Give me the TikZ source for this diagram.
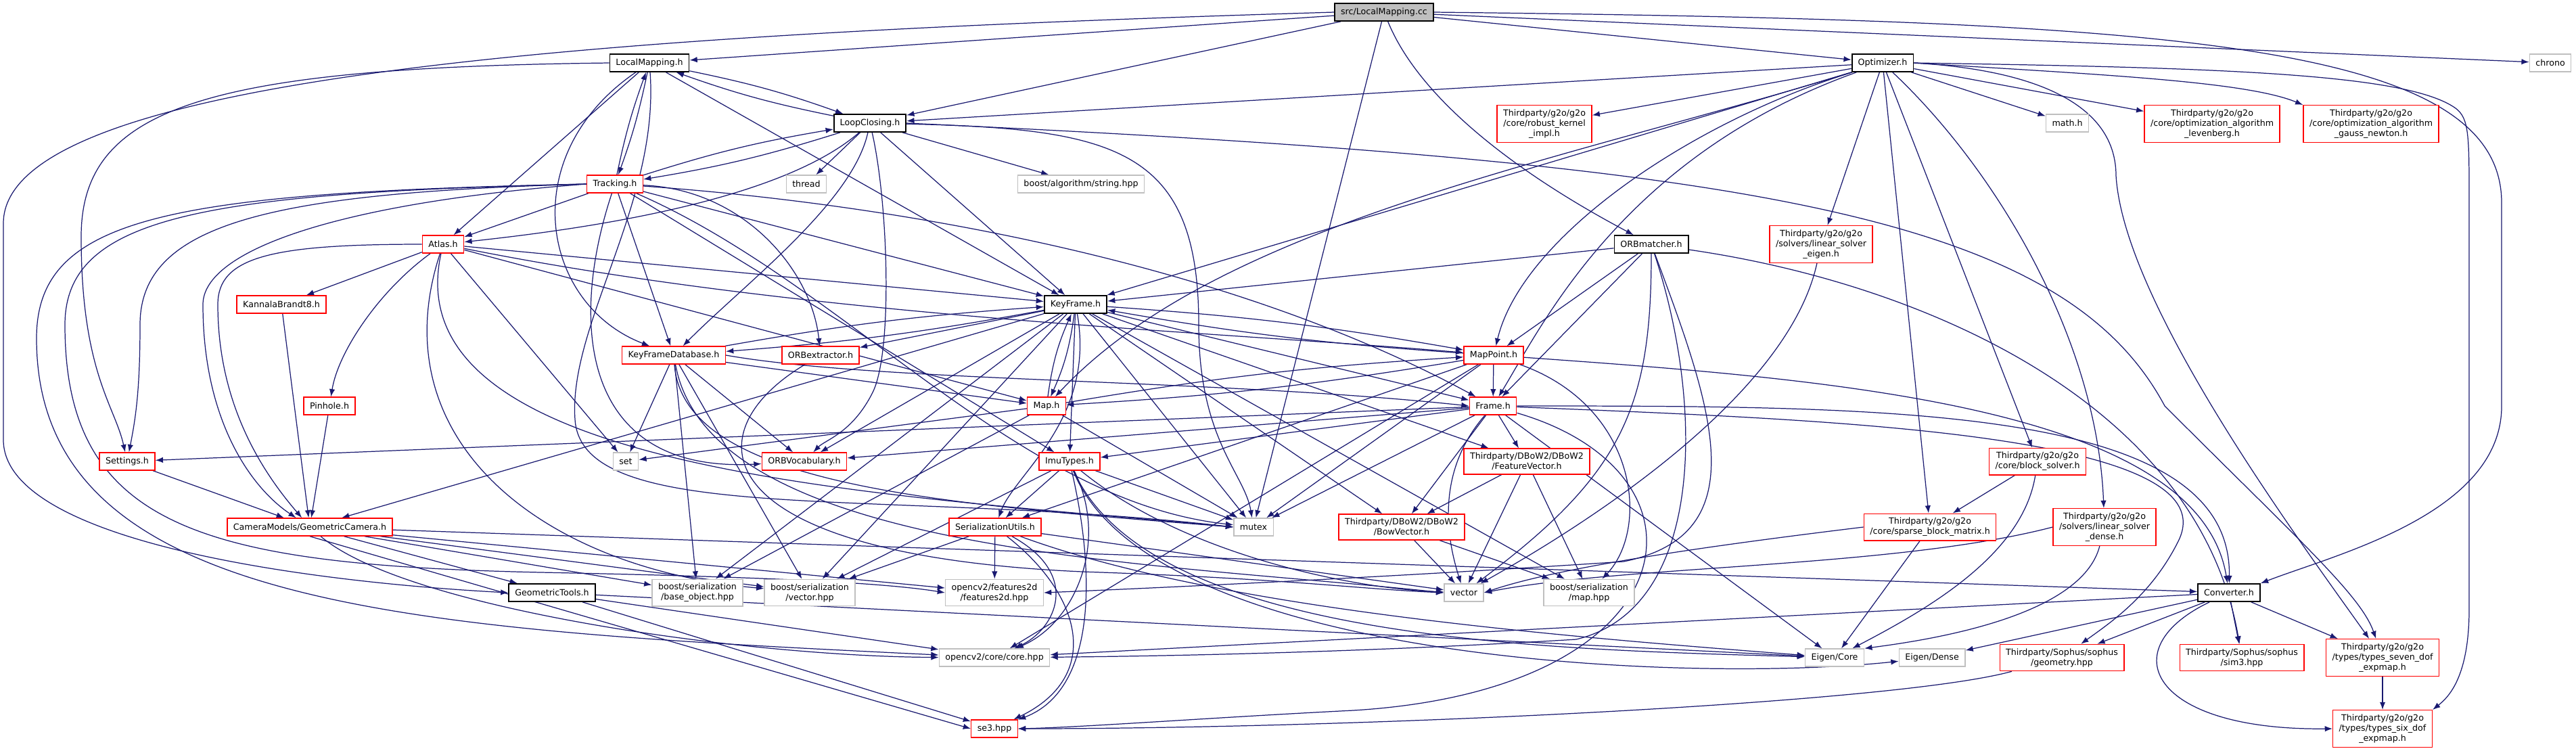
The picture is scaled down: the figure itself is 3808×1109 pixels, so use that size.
\documentclass[tikz,border=0pt]{standalone}
\usepackage{fontspec}
\usepackage{xcolor}
\usetikzlibrary{arrows.meta,backgrounds}
\newfontfamily\dxfont{DejaVu Sans}
\definecolor{edgeblue}{HTML}{191970}
\definecolor{boxgrey}{HTML}{BFBFBF}

\begin{document}
\begin{tikzpicture}[x=0.1mm,y=-0.1mm,>={Latex[length=3.2pt,width=2.4pt]}]
  \tikzstyle{hdr}=[draw=black,line width=0.5pt,fill=white,font={\dxfont\fontsize{3.6}{4.27}\selectfont},
    align=center,inner xsep=0.9mm,inner ysep=0.6mm,minimum height=2.6mm]
  \tikzstyle{trunc}=[hdr,draw=red,line width=0.4pt]
  \tikzstyle{sys}=[hdr,draw=boxgrey,line width=0.4pt]
  \tikzstyle{srcfile}=[hdr,fill=boxgrey]
  \tikzstyle{dep}=[->,draw=edgeblue,line width=0.35pt]
  \useasboundingbox (0,0) rectangle (3808,1109);

  \node[srcfile] (root) at (2046,18) {src/LocalMapping.cc};

  \node[hdr] (lmh) at (960,93) {LocalMapping.h};
  \node[hdr] (opt) at (2783,93) {Optimizer.h};
  \node[sys] (chrono) at (3770,93) {chrono};

  \node[hdr] (lch) at (1286,182) {LoopClosing.h};
  \node[trunc] (robust) at (2283,183) {Thirdparty/g2o/g2o\\/core/robust\_kernel\\\_impl.h};
  \node[sys] (mathh) at (3056,182) {math.h};
  \node[trunc] (lev) at (3270,183) {Thirdparty/g2o/g2o\\/core/optimization\_algorithm\\\_levenberg.h};
  \node[trunc] (gn) at (3505,183) {Thirdparty/g2o/g2o\\/core/optimization\_algorithm\\\_gauss\_newton.h};

  \node[trunc] (trk) at (909,272) {Tracking.h};
  \node[sys] (thread) at (1192,272) {thread};
  \node[sys] (strhpp) at (1598,272) {boost/algorithm/string.hpp};

  \node[trunc] (atlas) at (655,361) {Atlas.h};
  \node[hdr] (orbm) at (2441,361) {ORBmatcher.h};
  \node[trunc] (lseig) at (2692,361) {Thirdparty/g2o/g2o\\/solvers/linear\_solver\\\_eigen.h};

  \node[trunc] (kb8) at (416,450) {KannalaBrandt8.h};
  \node[hdr] (kf) at (1590,450) {KeyFrame.h};

  \node[trunc] (kfdb) at (996,525) {KeyFrameDatabase.h};
  \node[trunc] (orbx) at (1213,525) {ORBextractor.h};
  \node[trunc] (mp) at (2208,525) {MapPoint.h};

  \node[trunc] (pinhole) at (487,600) {Pinhole.h};
  \node[trunc] (map) at (1547,600) {Map.h};
  \node[trunc] (frame) at (2207,600) {Frame.h};

  \node[trunc] (settings) at (188,682) {Settings.h};
  \node[sys] (set) at (925,682) {set};
  \node[trunc] (voc) at (1189,682) {ORBVocabulary.h};
  \node[trunc] (imu) at (1581,682) {ImuTypes.h};
  \node[trunc] (fv) at (2257,682) {Thirdparty/DBoW2/DBoW2\\/FeatureVector.h};
  \node[trunc] (bsolver) at (3012,682) {Thirdparty/g2o/g2o\\/core/block\_solver.h};

  \node[trunc] (gcam) at (458,779) {CameraModels/GeometricCamera.h};
  \node[trunc] (ser) at (1471,779) {SerializationUtils.h};
  \node[sys] (mutex) at (1853,779) {mutex};
  \node[trunc] (bv) at (2072,779) {Thirdparty/DBoW2/DBoW2\\/BowVector.h};
  \node[trunc] (sbm) at (2853,779) {Thirdparty/g2o/g2o\\/core/sparse\_block\_matrix.h};
  \node[trunc] (lsd) at (3111,779) {Thirdparty/g2o/g2o\\/solvers/linear\_solver\\\_dense.h};

  \node[hdr] (gtools) at (816,876) {GeometricTools.h};
  \node[sys] (bobj) at (1031,876) {boost/serialization\\/base\_object.hpp};
  \node[sys] (bvec) at (1197,876) {boost/serialization\\/vector.hpp};
  \node[sys] (f2d) at (1470,876) {opencv2/features2d\\/features2d.hpp};
  \node[sys] (vector) at (2164,876) {vector};
  \node[sys] (bmap) at (2349,876) {boost/serialization\\/map.hpp};
  \node[hdr] (conv) at (3295,876) {Converter.h};

  \node[sys] (core) at (1470,972) {opencv2/core/core.hpp};
  \node[sys] (ecore) at (2712,972) {Eigen/Core};
  \node[sys] (edense) at (2856,972) {Eigen/Dense};
  \node[trunc] (geom) at (3048,972) {Thirdparty/Sophus/sophus\\/geometry.hpp};
  \node[trunc] (sim3) at (3314,972) {Thirdparty/Sophus/sophus\\/sim3.hpp};
  \node[trunc] (seven) at (3522,972) {Thirdparty/g2o/g2o\\/types/types\_seven\_dof\\\_expmap.h};

  \node[trunc] (se3) at (1470,1077) {se3.hpp};
  \node[trunc] (six) at (3522,1077) {Thirdparty/g2o/g2o\\/types/types\_six\_dof\\\_expmap.h};

  \begin{pgfonlayer}{background}
  \fill[white] (0,0) rectangle (3808,1109);

  % src/LocalMapping.cc
  \draw[dep] (root) -- (lmh);
  \draw[dep] (root) -- (lch);
  \draw[dep] (root) .. controls (2100,150) and (2250,260) .. (orbm);
  \draw[dep] (root) -- (opt);
  \draw[dep] (root) -- (chrono);
  \draw[dep] (root) -- (mutex);
  \draw[dep] (root.west) .. controls (900,50) and (5,110) .. (5,330) -- (5,650) .. controls (5,800) and (450,860) .. (gtools.west);
  \draw[dep] (root.east) .. controls (3200,30) and (3698,60) .. (3698,300) -- (3698,600) .. controls (3698,760) and (3450,820) .. (conv.north east);

  % LocalMapping.h
  \draw[dep] (lmh) -- (kf);
  \draw[dep] (lmh) -- (atlas);
  \draw[dep] (lmh) to[bend left=4] (lch);
  \draw[dep] (lmh) to[bend left=4] (trk);
  \draw[dep] (lmh) .. controls (760,230) and (800,450) .. (kfdb);
  \draw[dep] (lmh.west) .. controls (300,100) and (120,160) .. (120,350) .. controls (120,550) and (170,600) .. (settings);
  \draw[dep] (lmh) .. controls (975,300) and (840,480) .. (850,620) .. controls (860,780) and (1300,720) .. (mutex.west);

  % LoopClosing.h
  \draw[dep] (lch) to[bend left=4] (lmh);
  \draw[dep] (lch) to[bend left=4] (trk);
  \draw[dep] (lch) -- (kf);
  \draw[dep] (lch) .. controls (1150,300) and (850,340) .. (atlas);
  \draw[dep] (lch) .. controls (1260,300) and (1100,420) .. (kfdb);
  \draw[dep] (lch) -- (thread);
  \draw[dep] (lch) -- (strhpp);
  \draw[dep] (lch) .. controls (1313,300) and (1320,520) .. (1290,580) .. controls (1260,640) and (1220,650) .. (voc);
  \draw[dep] (lch) .. controls (1650,190) and (1772,220) .. (1772,480) .. controls (1772,650) and (1840,700) .. (mutex);
  \draw[dep] (lch.east) .. controls (2600,240) and (3050,320) .. (3200,600) .. controls (3400,800) and (3490,880) .. (seven);

  % Tracking.h
  \draw[dep] (trk) to[bend left=4] (lmh);
  \draw[dep] (trk) to[bend left=4] (lch);
  \draw[dep] (trk) -- (atlas);
  \draw[dep] (trk) -- (kfdb);
  \draw[dep] (trk) -- (kf);
  \draw[dep] (trk) -- (imu);
  \draw[dep] (trk) .. controls (1100,280) and (1200,400) .. (orbx);
  \draw[dep] (trk) .. controls (840,480) and (860,700) .. (voc);
  \draw[dep] (trk) .. controls (1300,300) and (1800,380) .. (frame);
  \draw[dep] (trk) .. controls (1250,420) and (1500,740) .. (mutex);
  \draw[dep] (trk.west) .. controls (500,300) and (300,370) .. (300,450) .. controls (300,620) and (370,720) .. (gcam);
  \draw[dep] (trk.west) .. controls (400,285) and (207,330) .. (207,480) .. controls (207,580) and (200,620) .. (settings);
  \draw[dep] (trk.west) .. controls (300,285) and (96,320) .. (96,480) .. controls (96,780) and (300,835) .. (800,846) .. controls (1100,852) and (1300,860) .. (f2d.west);
  \draw[dep] (trk.west) .. controls (250,285) and (54,320) .. (54,500) .. controls (54,900) and (600,930) .. (core);

  % Atlas.h
  \draw[dep] (atlas) -- (map);
  \draw[dep] (atlas) .. controls (1200,470) and (1800,490) .. (mp);
  \draw[dep] (atlas) -- (kf);
  \draw[dep] (atlas) -- (kb8);
  \draw[dep] (atlas) .. controls (560,430) and (500,520) .. (pinhole);
  \draw[dep] (atlas.west) .. controls (400,361) and (322,380) .. (322,450) .. controls (322,600) and (390,700) .. (gcam);
  \draw[dep] (atlas) -- (set);
  \draw[dep] (atlas) .. controls (580,700) and (1300,730) .. (mutex.west);
  \draw[dep] (atlas) .. controls (560,650) and (800,840) .. (bvec);

  % cameras and settings
  \draw[dep] (kb8) -- (gcam);
  \draw[dep] (pinhole) -- (gcam);
  \draw[dep] (settings) -- (gcam);

  % GeometricCamera.h
  \draw[dep] (gcam) -- (gtools);
  \draw[dep] (gcam) -- (bobj);
  \draw[dep] (gcam) -- (bvec);
  \draw[dep] (gcam) -- (f2d);
  \draw[dep] (gcam) .. controls (600,900) and (1100,970) .. (core);
  \draw[dep] (gcam.south) -- (se3.west);
  \draw[dep] (gcam) -- (conv);

  % GeometricTools.h
  \draw[dep] (gtools) -- (core);
  \draw[dep] (gtools) -- (ecore);
  \draw[dep] (gtools) -- (se3);

  % Converter.h
  \draw[dep] (conv) -- (core);
  \draw[dep] (conv) -- (edense);
  \draw[dep] (conv) -- (geom);
  \draw[dep] (conv) -- (sim3);
  \draw[dep] (conv) -- (seven);
  \draw[dep] (conv) .. controls (3120,960) and (3180,1080) .. (six.west);
  \draw[dep] (seven) -- (six);

  % Optimizer.h
  \draw[dep] (opt) -- (lch);
  \draw[dep] (opt) .. controls (2300,240) and (1800,330) .. (map);
  \draw[dep] (opt) -- (kf);
  \draw[dep] (opt) .. controls (2500,180) and (2250,350) .. (mp);
  \draw[dep] (opt) .. controls (2400,230) and (2280,480) .. (frame);
  \draw[dep] (opt) -- (robust);
  \draw[dep] (opt) -- (mathh);
  \draw[dep] (opt) -- (lev);
  \draw[dep] (opt.east) .. controls (3100,110) and (3320,120) .. (gn.north west);
  \draw[dep] (opt) -- (lseig);
  \draw[dep] (opt) -- (sbm);
  \draw[dep] (opt) -- (bsolver);
  \draw[dep] (opt) .. controls (2950,250) and (3100,500) .. (lsd);
  \draw[dep] (opt.east) .. controls (2950,100) and (3128,130) .. (3128,260) .. controls (3140,450) and (3400,800) .. (seven);
  \draw[dep] (opt.east) .. controls (3300,100) and (3560,110) .. (3630,160) .. controls (3650,175) and (3650,200) .. (3650,300) -- (3650,900) .. controls (3650,1000) and (3620,1030) .. (six.north east);

  % ORBmatcher.h
  \draw[dep] (orbm) -- (kf);
  \draw[dep] (orbm) -- (mp);
  \draw[dep] (orbm) -- (frame);
  \draw[dep] (orbm) .. controls (2441,600) and (2400,700) .. (vector);
  \draw[dep] (orbm) .. controls (2520,600) and (2520,900) .. (2330,945) .. controls (2000,965) and (1700,970) .. (core);
  \draw[dep] (orbm) .. controls (2530,600) and (2600,790) .. (2400,830) .. controls (2100,850) and (1800,865) .. (f2d.east);
  \draw[dep] (orbm) .. controls (2850,420) and (3250,600) .. (sim3);

  % g2o solvers
  \draw[dep] (lseig) .. controls (2640,600) and (2300,800) .. (vector);
  \draw[dep] (bsolver) -- (sbm);
  \draw[dep] (bsolver) .. controls (2990,820) and (2850,900) .. (ecore);
  \draw[dep] (sbm.west) .. controls (2500,810) and (2300,840) .. (vector.east);
  \draw[dep] (sbm) -- (ecore);
  \draw[dep] (lsd.west) .. controls (2800,840) and (2400,835) .. (vector.east);
  \draw[dep] (lsd) .. controls (3080,900) and (2900,940) .. (ecore.north east);
  \draw[dep] (geom) .. controls (2800,1040) and (2000,1077) .. (se3.east);

  % KeyFrame.h
  \draw[dep] (kf) to[bend left=3] (mp);
  \draw[dep] (kf) to[bend left=3] (kfdb);
  \draw[dep] (kf) to[bend left=8] (map);
  \draw[dep] (kf) -- (frame);
  \draw[dep] (kf) -- (bv);
  \draw[dep] (kf) -- (fv);
  \draw[dep] (kf) -- (voc);
  \draw[dep] (kf) -- (orbx);
  \draw[dep] (kf) -- (imu);
  \draw[dep] (kf) -- (gcam);
  \draw[dep] (kf) .. controls (1620,620) and (1500,700) .. (ser);
  \draw[dep] (kf) -- (mutex);
  \draw[dep] (kf) -- (bobj);
  \draw[dep] (kf) -- (bvec);
  \draw[dep] (kf) -- (bmap);

  % MapPoint.h
  \draw[dep] (mp) to[bend left=3] (kf);
  \draw[dep] (mp) to[bend left=3] (map);
  \draw[dep] (mp) -- (frame);
  \draw[dep] (mp) .. controls (2700,560) and (3250,600) .. (conv);
  \draw[dep] (mp) -- (ser);
  \draw[dep] (mp) -- (core);
  \draw[dep] (mp) -- (mutex);
  \draw[dep] (mp) .. controls (2420,600) and (2440,780) .. (bmap);

  % Map.h
  \draw[dep] (map) to[bend left=8] (kf);
  \draw[dep] (map) to[bend left=3] (mp);
  \draw[dep] (map) -- (set);
  \draw[dep] (map) -- (mutex);
  \draw[dep] (map) -- (bobj);

  % Frame.h
  \draw[dep] (frame) -- (settings);
  \draw[dep] (frame) -- (voc);
  \draw[dep] (frame) -- (imu);
  \draw[dep] (frame) -- (mutex);
  \draw[dep] (frame) -- (bv);
  \draw[dep] (frame) -- (fv);
  \draw[dep] (frame) .. controls (2120,700) and (2140,800) .. (vector);
  \draw[dep] (frame) .. controls (2700,620) and (3300,640) .. (3220,800) .. controls (3180,880) and (3120,920) .. (geom);
  \draw[dep] (frame) .. controls (2800,600) and (3300,600) .. (conv);
  \draw[dep] (frame) -- (ecore);
  \draw[dep] (frame) .. controls (2550,700) and (2500,1020) .. (2000,1050) .. controls (1800,1060) and (1600,1075) .. (se3.east);

  % ImuTypes.h
  \draw[dep] (imu) -- (ser);
  \draw[dep] (imu) -- (mutex);
  \draw[dep] (imu) -- (bvec);
  \draw[dep] (imu) .. controls (1750,820) and (2000,870) .. (vector);
  \draw[dep] (imu) .. controls (1640,800) and (1590,920) .. (core);
  \draw[dep] (imu) .. controls (1620,850) and (1620,1020) .. (se3);
  \draw[dep] (imu) .. controls (1700,950) and (2300,960) .. (ecore);
  \draw[dep] (imu) .. controls (1700,980) and (2500,1010) .. (edense);

  % SerializationUtils.h
  \draw[dep] (ser) -- (f2d);
  \draw[dep] (ser) -- (bvec);
  \draw[dep] (ser) .. controls (1600,850) and (1560,930) .. (core);
  \draw[dep] (ser) .. controls (1600,880) and (1630,1000) .. (se3);
  \draw[dep] (ser) -- (vector);
  \draw[dep] (ser) .. controls (1800,900) and (2300,940) .. (ecore);

  % DBoW2
  \draw[dep] (fv) -- (bv);
  \draw[dep] (fv) -- (vector);
  \draw[dep] (fv) -- (bmap);
  \draw[dep] (bv) -- (vector);
  \draw[dep] (bv) -- (bmap);

  % KeyFrameDatabase.h
  \draw[dep] (kfdb) to[bend left=3] (kf);
  \draw[dep] (kfdb.east) .. controls (1300,565) and (1800,560) .. (frame.west);
  \draw[dep] (kfdb) -- (voc);
  \draw[dep] (kfdb) -- (map);
  \draw[dep] (kfdb) -- (set);
  \draw[dep] (kfdb) -- (bobj);
  \draw[dep] (kfdb) -- (bvec);
  \draw[dep] (kfdb) .. controls (1050,820) and (1700,830) .. (vector.west);
  \draw[dep] (kfdb) .. controls (1010,720) and (1400,745) .. (mutex.west);

  % ORBextractor.h
  \draw[dep] (orbx) .. controls (1020,640) and (1040,820) .. (1600,845) .. controls (1900,855) and (2000,870) .. (vector.west);
  \end{pgfonlayer}
\end{tikzpicture}
\end{document}
